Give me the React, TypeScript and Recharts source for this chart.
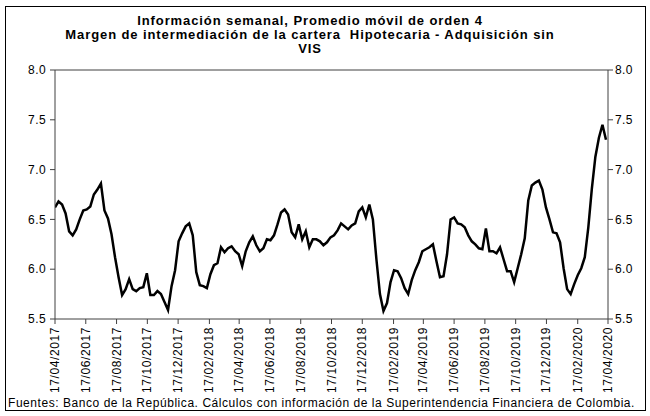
import React from 'react';
import { LineChart, Line, XAxis, YAxis, ReferenceLine } from 'recharts';

// weekly values, 4-week moving average (%)
const values: number[] = [
  6.62, 6.68, 6.65, 6.56, 6.38, 6.34, 6.40, 6.50, 6.59, 6.60,
  6.63, 6.75, 6.80, 6.86, 6.59, 6.51, 6.35, 6.12, 5.92, 5.74,
  5.80, 5.90, 5.80, 5.78, 5.81, 5.82, 5.96, 5.74, 5.74, 5.78,
  5.75, 5.67, 5.59, 5.83, 5.99, 6.28, 6.36, 6.43, 6.46, 6.34,
  5.97, 5.84, 5.83, 5.81, 5.95, 6.04, 6.06, 6.22, 6.17, 6.21,
  6.23, 6.18, 6.15, 6.03, 6.18, 6.27, 6.33, 6.24, 6.18, 6.21,
  6.30, 6.29, 6.34, 6.45, 6.57, 6.60, 6.55, 6.37, 6.32, 6.45,
  6.30, 6.38, 6.22, 6.30, 6.30, 6.28, 6.24, 6.27, 6.32, 6.34,
  6.39, 6.46, 6.43, 6.40, 6.44, 6.46, 6.58, 6.62, 6.52, 6.65,
  6.50, 6.10, 5.75, 5.58, 5.66, 5.87, 5.99, 5.98, 5.91, 5.81,
  5.75, 5.89, 5.99, 6.07, 6.18, 6.20, 6.22, 6.25, 6.08, 5.92,
  5.93, 6.15, 6.50, 6.52, 6.46, 6.45, 6.42, 6.34, 6.28, 6.25,
  6.21, 6.20, 6.41, 6.18, 6.18, 6.16, 6.22, 6.10, 5.98, 5.98,
  5.87, 6.01, 6.15, 6.31, 6.69, 6.84, 6.87, 6.89, 6.80, 6.62,
  6.50, 6.37, 6.36, 6.27, 6.01, 5.80, 5.75, 5.85, 5.94, 6.01,
  6.12, 6.42, 6.81, 7.13, 7.32, 7.45, 7.30,
];

const tickLabels: string[] = [
  '17/04/2017', '17/06/2017', '17/08/2017', '17/10/2017', '17/12/2017',
  '17/02/2018', '17/04/2018', '17/06/2018', '17/08/2018', '17/10/2018',
  '17/12/2018', '17/02/2019', '17/04/2019', '17/06/2019', '17/08/2019',
  '17/10/2019', '17/12/2019', '17/02/2020', '17/04/2020',
];

const yTicks: number[] = [5.5, 6.0, 6.5, 7.0, 7.5, 8.0];

const DAY = 86400000;
const toMs = (s: string) => {
  const [d, m, y] = s.split('/').map(Number);
  return Date.UTC(y, m - 1, d);
};
const start = toMs(tickLabels[0]);
const tickDays = tickLabels.map(l => Math.round((toMs(l) - start) / DAY));
const data = values.map((v, i) => ({ day: i * 7, value: v }));

const fmtDay = (d: number) => {
  const dt = new Date(start + d * DAY);
  const dd = String(dt.getUTCDate()).padStart(2, '0');
  const mm = String(dt.getUTCMonth() + 1).padStart(2, '0');
  return `${dd}/${mm}/${dt.getUTCFullYear()}`;
};

const font = '"Liberation Sans", Arial, sans-serif';
const axisColor = '#404040';

const DateTick = ({ x, y, payload }: any) => (
  <g transform={`translate(${x},${y})`}>
    <text
      transform="rotate(-90)"
      textAnchor="end"
      x={0}
      y={0}
      dy={4}
      fontSize={12}
      letterSpacing={0.6}
      fill="#000"
      fontFamily={font}
    >
      {fmtDay(payload.value)}
    </text>
  </g>
);

export default function App() {
  return (
    <div style={{ position: 'absolute', left: 0, top: 0, width: 650, height: 416, background: '#fff', fontFamily: font }}>
      <div style={{ position: 'absolute', left: 5, top: 6, width: 639, height: 403, border: '1px solid #000' }} />
      <div style={{ position: 'absolute', left: 0, top: 14, width: 620, textAlign: 'center', fontWeight: 'bold', fontSize: 13, letterSpacing: 0.9, lineHeight: '14px', color: '#000', whiteSpace: 'nowrap' }}>
        <div>Información semanal, Promedio móvil de orden 4</div>
        <div>Margen de intermediación de la cartera&nbsp; Hipotecaria - Adquisición sin</div>
        <div>VIS</div>
      </div>
      <div style={{ position: 'absolute', left: 0, top: 0 }}>
        <LineChart width={650} height={416} data={data} margin={{ top: 70, right: 0, bottom: 0, left: 0 }}>
          <XAxis
            dataKey="day"
            type="number"
            domain={[0, tickDays[tickDays.length - 1]]}
            ticks={tickDays}
            interval={0}
            tick={<DateTick />}
            tickSize={5}
            tickMargin={3}
            height={97}
            stroke={axisColor}
            allowDataOverflow
          />
          <YAxis
            yAxisId="left"
            domain={[5.5, 8]}
            ticks={yTicks}
            tickFormatter={(v: number) => v.toFixed(1)}
            width={55}
            tickSize={5}
            tickMargin={4}
            stroke={axisColor}
            tick={{ fill: '#000', fontSize: 12, fontFamily: font, letterSpacing: 0.4 }}
          />
          <YAxis
            yAxisId="right"
            orientation="right"
            domain={[5.5, 8]}
            ticks={yTicks}
            tickFormatter={(v: number) => v.toFixed(1)}
            width={42}
            tickSize={5}
            tickMargin={2}
            stroke={axisColor}
            tick={{ fill: '#000', fontSize: 12, fontFamily: font, letterSpacing: 0.4, textAnchor: 'start' }}
          />
          <ReferenceLine yAxisId="left" y={8} stroke={axisColor} />
          <Line
            yAxisId="left"
            dataKey="value"
            type="linear"
            stroke="#000"
            strokeWidth={2.5}
            dot={false}
            isAnimationActive={false}
          />
          <Line
            yAxisId="right"
            dataKey="value"
            stroke="none"
            dot={false}
            activeDot={false}
            legendType="none"
            isAnimationActive={false}
          />
        </LineChart>
      </div>
      <div style={{ position: 'absolute', left: 8, top: 396, fontSize: 12, letterSpacing: 0.55, color: '#000', whiteSpace: 'nowrap' }}>
        Fuentes: Banco de la República. Cálculos con información de la Superintendencia Financiera de Colombia.
      </div>
    </div>
  );
}
